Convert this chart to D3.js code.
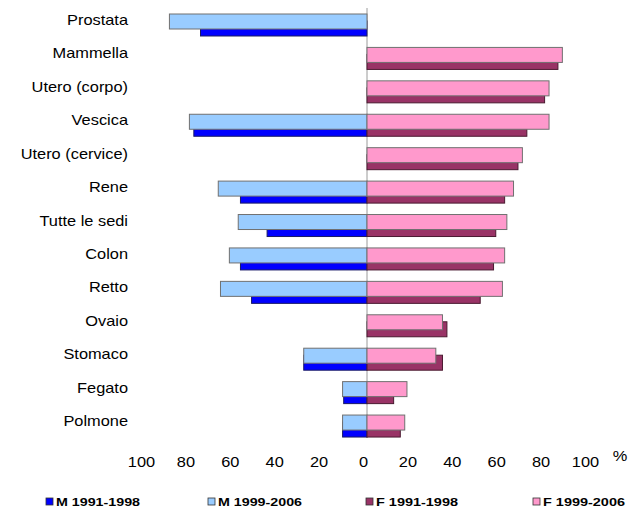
<!DOCTYPE html>
<html>
<head>
<meta charset="utf-8">
<script src="https://cdn.jsdelivr.net/npm/d3@7"></script>
<style>
  html, body { margin: 0; padding: 0; background: #fff; }
  svg { display: block; font-family: "Liberation Sans", Arial, sans-serif; }
</style>
</head>
<body>
<svg id="chart" width="637" height="510"></svg>
<script>
const categories = ["Prostata","Mammella","Utero (corpo)","Vescica","Utero (cervice)","Rene","Tutte le sedi","Colon","Retto","Ovaio","Stomaco","Fegato","Polmone"];
const m9198 = [75, null, null, 78, null, 57, 45, 57, 52, null, 28.5, 10.5, 11];
const m9906 = [89, null, null, 80, null, 67, 58, 62, 66, null, 28.5, 11, 11];
const f9198 = [null, 86, 80, 72, 68, 62, 58, 57, 51, 36, 34, 12, 15];
const f9906 = [null, 88, 82, 82, 70, 66, 63, 62, 61, 34, 31, 18, 17];
const tickValues = [-100, -80, -60, -40, -20, 0, 20, 40, 60, 80, 100];
const seriesNames = ["M 1991-1998", "M 1999-2006", "F 1991-1998", "F 1999-2006"];

const colors = { m9198: "#0000ff", m9906: "#99ccff", f9198: "#993366", f9906: "#ff99cc" };
const strokes = { m9198: "#1a1a66", m9906: "#707070", f9198: "#4a1a30", f9906: "#707070" };

const svg = d3.select("#chart");
const x = d3.scaleLinear().domain([-100, 100]).range([145, 589]);
const y = d3.scaleBand().domain(categories).range([6, 6 + 13 * 33.42]).padding(0);
const barH = 15;
const stretch = 1.17;

// zero line
svg.append("line")
  .attr("x1", x(0)).attr("x2", x(0))
  .attr("y1", 8).attr("y2", 438)
  .attr("stroke", "#9a9a9a").attr("stroke-width", 1);

function drawBars(vals, key, sign, offset) {
  svg.append("g").selectAll("rect")
    .data(categories.map((c, i) => ({ c, v: vals[i] })).filter(d => d.v != null))
    .join("rect")
    .attr("x", d => sign < 0 ? x(-d.v) : x(0))
    .attr("width", d => Math.abs(x(sign * d.v) - x(0)))
    .attr("y", d => y(d.c) + offset)
    .attr("height", barH)
    .attr("fill", colors[key])
    .attr("stroke", strokes[key])
    .attr("stroke-width", 1);
}
// older period drawn first (behind), newer overlaps on top
drawBars(m9198, "m9198", -1, 15);
drawBars(f9198, "f9198", 1, 15);
drawBars(m9906, "m9906", -1, 8);
drawBars(f9906, "f9906", 1, 8);

// category labels
svg.append("g").selectAll("text")
  .data(categories)
  .join("text")
  .attr("transform", d => `translate(128,${y(d) + 14}) scale(${stretch},1)`)
  .attr("text-anchor", "end")
  .attr("dominant-baseline", "central")
  .attr("font-size", 14)
  .attr("fill", "#000")
  .text(d => d);

// x axis tick labels
const axis = d3.axisBottom(x).tickValues(tickValues).tickSize(0).tickFormat(d => Math.abs(d));
const ax = svg.append("g").attr("transform", "translate(-4,456)").call(axis);
ax.select(".domain").remove();
ax.selectAll("text")
  .attr("font-size", 14)
  .attr("font-family", "Liberation Sans, Arial, sans-serif")
  .attr("fill", "#000")
  .attr("y", 0)
  .attr("dy", "0.35em")
  .attr("dominant-baseline", null)
  .attr("transform", `translate(0,6) scale(${stretch},1)`);
svg.append("text")
  .attr("transform", `translate(620,456) scale(${stretch},1)`)
  .attr("text-anchor", "middle")
  .attr("dominant-baseline", "central")
  .attr("font-size", 14)
  .text("%");

// legend
const legendKeys = ["m9198", "m9906", "f9198", "f9906"];
const legendX = [46, 208, 366, 533];
const lg = svg.append("g").selectAll("g")
  .data(legendKeys)
  .join("g")
  .attr("transform", (d, i) => `translate(${legendX[i]},502)`);
lg.append("rect")
  .attr("x", 0).attr("y", -4).attr("width", 7).attr("height", 7)
  .attr("fill", d => colors[d]).attr("stroke", "#333").attr("stroke-width", 0.8);
lg.append("text")
  .attr("x", 10).attr("y", 0)
  .attr("dominant-baseline", "central")
  .attr("font-size", 10.5)
  .attr("font-weight", "bold")
  .attr("textLength", (d, i) => i >= 2 ? 82 : 84)
  .attr("lengthAdjust", "spacingAndGlyphs")
  .text((d, i) => seriesNames[i]);
</script>
</body>
</html>
